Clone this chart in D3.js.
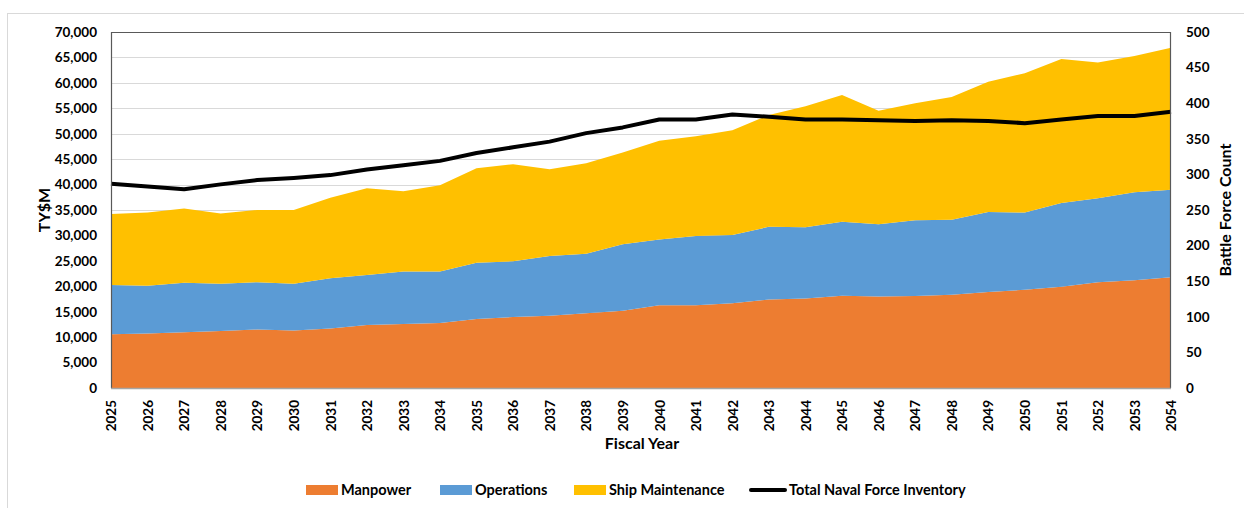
<!DOCTYPE html>
<html><head><meta charset="utf-8">
<script src="https://cdn.jsdelivr.net/npm/d3@7/dist/d3.min.js"></script>
<style>body{margin:0;background:#fff}svg{display:block}text{font-family:Lato,"Open Sans",sans-serif;font-weight:bold;fill:#000}</style>
</head><body><svg id="c" width="1244" height="508"></svg>
<script>
const years = d3.range(2025, 2055);
const manpower = [10550,10740,10950,11200,11500,11300,11700,12400,12600,12800,13550,13950,14200,14700,15200,16250,16250,16650,17400,17600,18150,18000,18100,18350,18900,19300,19900,20800,21200,21800];
const operations = [9700,9360,9750,9300,9300,9200,9900,9800,10300,10100,11100,10950,11750,11700,13050,12950,13650,13450,14300,14000,14550,14200,14900,14750,15700,15200,16500,16500,17300,17200];
const maintenance = [13950,14400,14600,13800,14200,14500,15800,17100,15800,16950,18550,19100,17050,17800,18050,19400,19600,20600,22000,23800,24900,22300,23000,24100,25600,27400,28300,26700,26800,27900];
const inventory = [287,283,279,286,292,295,299,307,313,319,330,338,346,358,366,377,377,384,381,377,377,376,375,376,375,372,377,382,382,388];
const leftTicks = d3.range(0, 70001, 5000);
const rightTicks = d3.range(0, 501, 50);
const seriesNames = ["Manpower","Operations","Ship Maintenance"];
const colors = ["#ED7D31","#5B9BD5","#FFC000"];

const svg = d3.select("#c");
const L = 111, R = 1171, T = 32, B = 388;
// outer frame
svg.append("rect").attr("x",7.5).attr("y",13.5).attr("width",1300).attr("height",600)
  .attr("fill","none").attr("stroke","#d9d9d9");

const x = d3.scaleLinear().domain([2025,2054]).range([L,R]);
const y = d3.scaleLinear().domain([0,70000]).range([B,T]);
const y2 = d3.scaleLinear().domain([0,500]).range([B,T]);

// grid
svg.append("g").selectAll("line").data(leftTicks.filter(d=>d>0)).join("line")
  .attr("x1",L).attr("x2",R).attr("y1",d=>Math.round(y(d))+0.5).attr("y2",d=>Math.round(y(d))+0.5)
  .attr("stroke","#d9d9d9").attr("stroke-width",1);

const rows = years.map((yr,i)=>({year:yr, "Manpower":manpower[i], "Operations":operations[i], "Ship Maintenance":maintenance[i]}));
const stack = d3.stack().keys(seriesNames)(rows);
const area = d3.area().x(d=>x(d.data.year)).y0(d=>y(d[0])).y1(d=>y(d[1]));
svg.append("g").selectAll("path").data(stack).join("path")
  .attr("d",area).attr("fill",(d,i)=>colors[i]);

// line
const line = d3.line().x((d,i)=>x(years[i])).y(d=>y2(d));
svg.append("path").datum(inventory).attr("d",line).attr("fill","none")
  .attr("stroke","#000").attr("stroke-width",4).attr("stroke-linejoin","round");

// plot border
svg.append("path").attr("d",`M${L+0.5},${B}V${T+0.5}H${R-0.5}V${B}`).attr("fill","none").attr("stroke","#595959").attr("stroke-width",1.2);
svg.append("line").attr("x1",L).attr("x2",R).attr("y1",B+0.5).attr("y2",B+0.5).attr("stroke","#a6a6a6").attr("stroke-width",1.5);

// axes
const ax = svg.append("g").attr("transform",`translate(0,${B})`)
  .call(d3.axisBottom(x).tickValues(years).tickFormat(d3.format("d")).tickSize(0));
ax.select(".domain").remove();
ax.selectAll("text").attr("transform","rotate(-90)").attr("text-anchor","end")
  .attr("x",-12).attr("y",0).attr("dy","0.35em").style("font-size","13.5px");

const ayl = svg.append("g").attr("transform",`translate(${L},0)`)
  .call(d3.axisLeft(y).tickValues(leftTicks).tickFormat(d3.format(",")).tickSize(0).tickPadding(14));
ayl.select(".domain").remove();
ayl.selectAll("text").style("font-size","13.5px");

const ayr = svg.append("g").attr("transform",`translate(${R},0)`)
  .call(d3.axisRight(y2).tickValues(rightTicks).tickFormat(d3.format("d")).tickSize(0).tickPadding(15));
ayr.select(".domain").remove();
ayr.selectAll("text").style("font-size","13.5px");

// titles
svg.append("text").attr("x",642).attr("y",449).attr("text-anchor","middle").style("font-size","16px").text("Fiscal Year");
svg.append("text").attr("transform",`translate(50,${(T+B)/2}) rotate(-90)`).attr("text-anchor","middle").style("font-size","16px").text("TY$M");
svg.append("text").attr("transform",`translate(1231,${(T+B)/2}) rotate(-90)`).attr("text-anchor","middle").style("font-size","16px").text("Battle Force Count");

// legend
const lg = svg.append("g");
const legX = [306,440,574,751];
const legY = 490;
seriesNames.forEach((n,i)=>{
  lg.append("rect").attr("x",legX[i]).attr("y",legY-5).attr("width",32).attr("height",10).attr("fill",colors[i]);
  lg.append("text").attr("x",legX[i]+35).attr("y",legY).attr("dy","0.35em").style("font-size","14.5px").text(n);
});
lg.append("line").attr("x1",legX[3]).attr("x2",legX[3]+34).attr("y1",legY).attr("y2",legY).attr("stroke","#000").attr("stroke-width",4).attr("stroke-linecap","round");
lg.append("text").attr("x",legX[3]+38).attr("y",legY).attr("dy","0.35em").style("font-size","14.5px").text("Total Naval Force Inventory");
</script></body></html>
